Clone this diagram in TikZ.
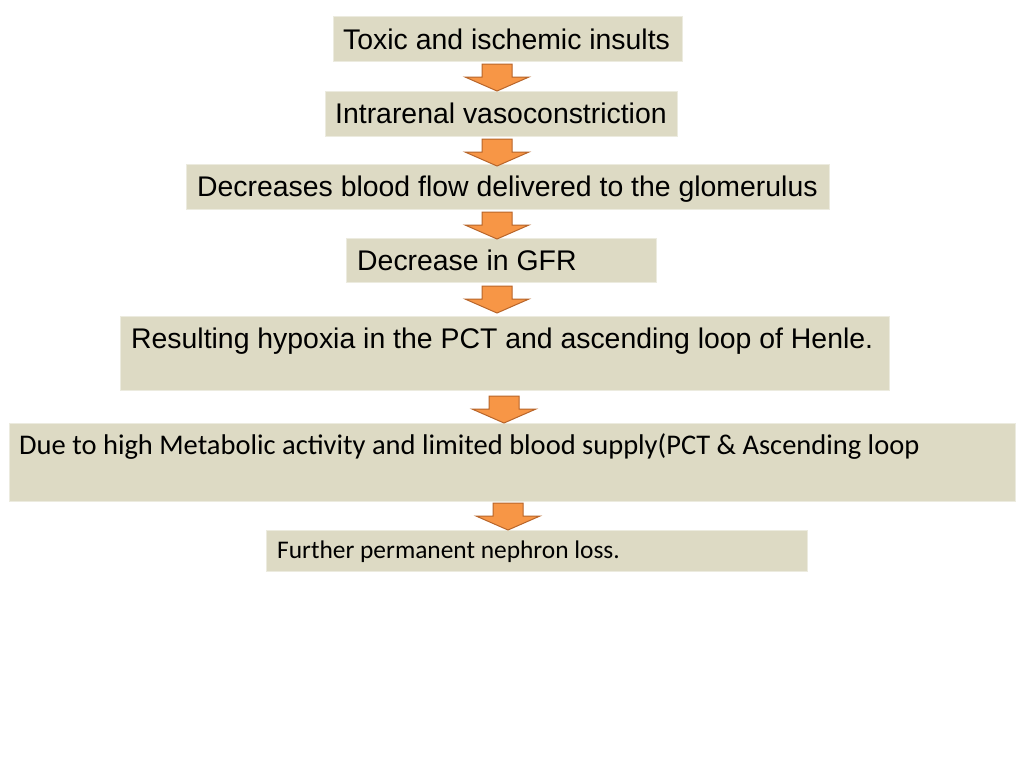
\documentclass[tikz,border=0pt]{standalone}
\usepackage{fontspec}
\setmainfont{Liberation Sans}
\newfontfamily\carl{Carlito}
\definecolor{boxfill}{HTML}{DDDAC4}
\definecolor{boxedge}{HTML}{ECEBDF}
\definecolor{arrfill}{HTML}{F79646}
\definecolor{arredge}{HTML}{B8652A}
\tikzset{
 bx/.style={fill=boxfill,draw=boxedge,line width=1pt},
 tx/.style={anchor=base west,inner sep=0pt,font=\fontsize{28.4}{32}\selectfont},
 tc/.style={anchor=base west,inner sep=0pt,font=\carl\fontsize{28.5}{32}\selectfont},
 dn/.pic={\filldraw[fill=arrfill,draw=arredge,line width=1pt]
   (-15,0)--(15,0)--(15,13)--(32,13)--(0,27)--(-32,13)--(-15,13)--cycle;}
}
\begin{document}
\begin{tikzpicture}[x=1pt,y=-1pt]
\useasboundingbox[fill=white] (0,0) rectangle (1024,768);
\filldraw[bx] (333,17) rectangle (682,61);
\node[tx] (t1) at (343,49) {Toxic and ischemic insults};
\filldraw[bx] (325,91) rectangle (677,136);
\node[tx] (t2) at (335,123) {Intrarenal vasoconstriction};
\filldraw[bx] (186,164) rectangle (829,209);
\node[tx] (t3) at (197,196) {Decreases blood flow delivered to the glomerulus};
\filldraw[bx] (346,238) rectangle (656,282);
\node[tx] (t4) at (357,270) {Decrease in GFR};
\filldraw[bx] (120,316) rectangle (889,390);
\node[tx] (t5) at (131,348) {Resulting hypoxia in the PCT and ascending loop of Henle.};
\filldraw[bx] (9,423) rectangle (1015,501);
\node[tc] (t6) at (19,454) {Due to high Metabolic activity and limited blood supply(PCT \& Ascending loop};
\filldraw[bx] (266,530) rectangle (807,571);
\node[tc,font=\carl\fontsize{25.4}{28}\selectfont] (t7) at (277,558) {Further permanent nephron loss.};
\pic at (497,64) {dn};
\pic at (497,139) {dn};
\pic at (497,212) {dn};
\pic at (497,286) {dn};
\pic at (504,396) {dn};
\pic at (508,503) {dn};
\end{tikzpicture}
\end{document}
